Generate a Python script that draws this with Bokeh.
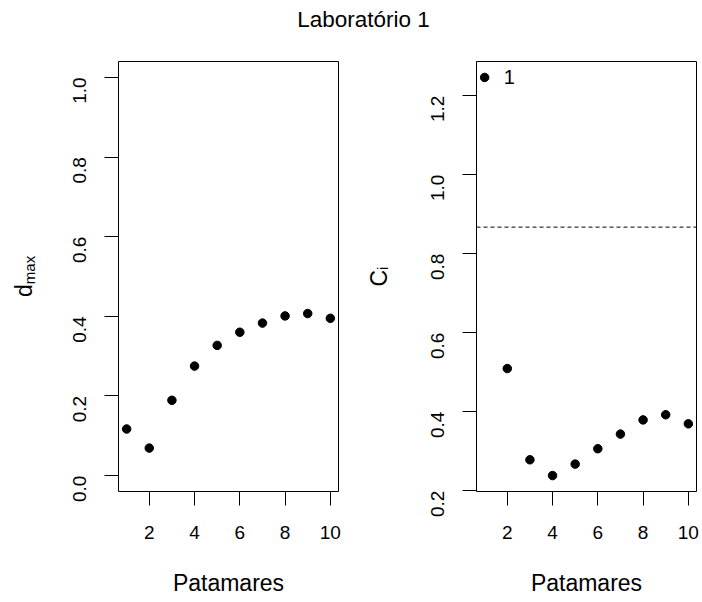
import math

from bokeh.core.properties import value
from bokeh.embed import file_html
from bokeh.layouts import column, row
from bokeh.models import (ColumnDataSource, Div, FixedTicker,
                          PrintfTickFormatter, Range1d, Span)
from bokeh.plotting import figure
from bokeh.resources import INLINE

# ---- data -------------------------------------------------------------
patamares = [1, 2, 3, 4, 5, 6, 7, 8, 9, 10]
dmax = [0.117, 0.069, 0.189, 0.275, 0.327, 0.360, 0.383, 0.401, 0.407, 0.395]
ci = [1.246, 0.509, 0.278, 0.238, 0.267, 0.306, 0.343, 0.379, 0.392, 0.369]
ci_limite = 0.867

dmax_lim = [0.0, 1.0]
x_ticks = [2, 4, 6, 8, 10]
dmax_ticks = [0.0, 0.2, 0.4, 0.6, 0.8, 1.0]
ci_ticks = [0.2, 0.4, 0.6, 0.8, 1.0, 1.2]

titulo = "Laboratório 1"
x_titulo = "Patamares"

FONT = "Liberation Sans"
TICK_PX = "19px"
LAB_PX = "23px"
SUB_PX = "15px"
FRAME_W, FRAME_H = 220, 430
FIG_H = 562
TOP, BOTTOM = 21, FIG_H - 21 - FRAME_H
STRIP_W = 50          # width of the strip that holds a vertical axis title


def padded(lo, hi, frac=0.04):
    r = hi - lo
    return Range1d(lo - frac * r, hi + frac * r)


def make_panel(yvals, ylim, yticks, width, left):
    p = figure(width=width, height=FIG_H,
               x_range=padded(min(patamares), max(patamares)),
               y_range=padded(*ylim),
               output_backend="svg", toolbar_location=None,
               min_border_left=left, min_border_right=width - left - FRAME_W,
               min_border_top=TOP, min_border_bottom=BOTTOM,
               background_fill_color="white", border_fill_color="white")
    p.margin = 0
    p.grid.visible = False
    p.outline_line_color = "black"
    p.outline_line_width = 1
    p.outline_line_alpha = 1

    for ax in (p.xaxis[0], p.yaxis[0]):
        ax.axis_line_color = None
        ax.major_tick_in = 0
        ax.major_tick_out = 14
        ax.major_tick_line_color = "black"
        ax.minor_tick_line_color = None
        ax.major_label_text_font = FONT
        ax.major_label_text_font_size = TICK_PX
        ax.major_label_text_color = "black"

    p.xaxis.ticker = FixedTicker(ticks=x_ticks)
    p.xaxis.major_label_standoff = 20
    p.xaxis.axis_label = x_titulo
    p.xaxis.axis_label_text_font = FONT
    p.xaxis.axis_label_text_font_size = LAB_PX
    p.xaxis.axis_label_text_font_style = "normal"
    p.xaxis.axis_label_text_color = "black"
    p.xaxis.axis_label_standoff = 28

    p.yaxis.ticker = FixedTicker(ticks=yticks)
    p.yaxis.formatter = PrintfTickFormatter(format="%.1f")
    p.yaxis.major_label_orientation = math.pi / 2
    p.yaxis.major_label_standoff = 25

    p.scatter(patamares, yvals, size=8.5, color="black")
    return p


def title_strip(parts):
    """Narrow strip whose frame has the panel's height, in pixel units,
    carrying a vertical axis title: a main symbol and its subscript."""
    s = figure(width=STRIP_W, height=FIG_H, x_range=Range1d(0, STRIP_W),
               y_range=Range1d(0, FRAME_H), x_axis_type=None,
               y_axis_type=None, output_backend="svg", toolbar_location=None,
               min_border_left=0, min_border_right=0,
               min_border_top=TOP, min_border_bottom=BOTTOM,
               outline_line_color=None,
               background_fill_color="white", border_fill_color="white")
    s.margin = 0
    s.grid.visible = False
    src = ColumnDataSource(dict(x=[q[1] for q in parts],
                                y=[q[2] for q in parts],
                                t=[q[0] for q in parts],
                                fs=[q[3] for q in parts]))
    s.text(x="x", y="y", text="t", source=src, angle=math.pi / 2,
           text_align="left", text_baseline="alphabetic",
           text_font=value(FONT), text_font_size="fs", text_color="black")
    return s


# left panel: d_max
s1 = title_strip([("d", 23, 194.5, LAB_PX), ("max", 28.5, 207.3, SUB_PX)])
p1 = make_panel(dmax, dmax_lim, dmax_ticks, width=352 - STRIP_W,
                left=118 - STRIP_W)

# right panel: C_i with the reference limit and labelled outliers
s2 = title_strip([("C", 26.5, 205.0, LAB_PX), ("i", 30, 221.6, SUB_PX)])
p2 = make_panel(ci, [min(ci), max(ci)], ci_ticks, width=350 - STRIP_W,
                left=124 - STRIP_W)
p2.add_layout(Span(location=ci_limite, dimension="width", line_color="black",
                   line_width=1, line_dash="4 3"))
out = [(x, y, str(x)) for x, y in zip(patamares, ci) if y > ci_limite]
src = ColumnDataSource(dict(x=[o[0] for o in out], y=[o[1] for o in out],
                            t=[o[2] for o in out]))
p2.text(x="x", y="y", text="t", source=src, x_offset=19,
        text_align="left", text_baseline="middle",
        text_font=value(FONT), text_font_size="20px", text_color="black")

head = Div(text=('<div style="width:702px;box-sizing:border-box;'
                 'padding-left:25px;padding-top:9px;text-align:center;'
                 "font-family:'Liberation Sans',Arial,sans-serif;"
                 'font-size:22.5px;line-height:22.5px;color:black;">'
                 + titulo + '</div>'),
           width=702, height=40, margin=0)

layout = column(head, row(s1, p1, s2, p2, margin=0), margin=0)

with open("out.html", "w") as f:
    f.write(file_html(layout, INLINE))
